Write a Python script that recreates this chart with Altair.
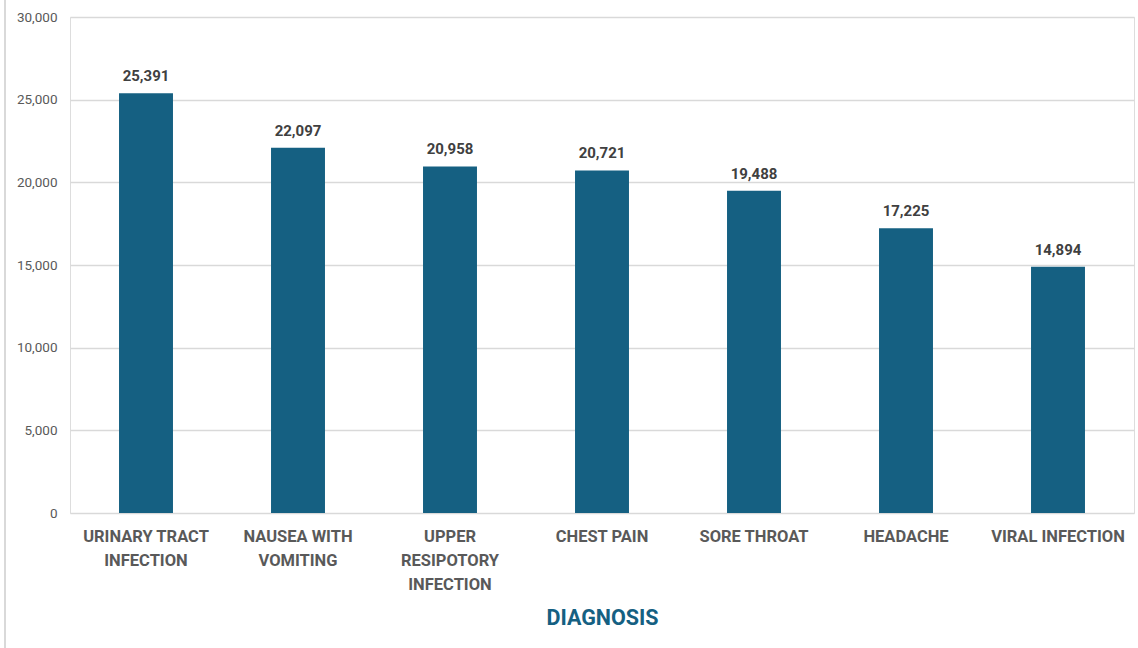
import altair as alt
import pandas as pd

categories = ["URINARY TRACT|INFECTION", "NAUSEA WITH|VOMITING", "UPPER|RESIPOTORY|INFECTION",
              "CHEST PAIN", "SORE THROAT", "HEADACHE", "VIRAL INFECTION"]
counts = [25391, 22097, 20958, 20721, 19488, 17225, 14894]

df = pd.DataFrame({"diagnosis": categories, "count": counts})

bar_color = "#156082"
x = alt.X("diagnosis:N", sort=categories,
          scale=alt.Scale(paddingInner=0.645, paddingOuter=0.3225),
          axis=alt.Axis(title="DIAGNOSIS", labelAngle=0, labelExpr="split(datum.label, '|')",
                        labelFont="Roboto", labelFontWeight="bold", labelFontSize=16.5,
                        labelColor="#595959", labelLineHeight=24, labelPadding=15,
                        labelBaseline="top",
                        domain=False, ticks=False,
                        titleFont="Roboto", titleFontSize=21.5, titleFontWeight="bold",
                        titleColor=bar_color, titlePadding=15))
y = alt.Y("count:Q", scale=alt.Scale(domain=[0, 30000]),
          axis=alt.Axis(title=None, values=[0, 5000, 10000, 15000, 20000, 25000, 30000],
                        format=",.0f", labelFont="Roboto", labelFontSize=13.5, labelColor="#595959",
                        labelPadding=13, domain=False, ticks=False,
                        gridColor="#d9d9d9", gridWidth=1.3))

bars = alt.Chart(df).mark_bar(color=bar_color).encode(x=x, y=y)
labels = alt.Chart(df).mark_text(baseline="bottom", dy=-9, font="Roboto", fontWeight="bold",
                                 fontSize=15, color="#404040").encode(
    x=alt.X("diagnosis:N", sort=categories), y="count:Q", text=alt.Text("count:Q", format=",.0f"))
border = alt.Chart(df).mark_rule(color="#d9d9d9", strokeWidth=2).encode(
    x=alt.value(-65), y=alt.value(-17), y2=alt.value(631))

chart = alt.layer(border, bars, labels).properties(
    width=1064, height=496,
    padding={"left": 70, "top": 17, "right": 4, "bottom": 135},
    autosize=alt.AutoSizeParams(type="none"),
).configure_view(stroke=None).configure(background="white")

chart.save("out.html", embed_options={"renderer": "svg", "actions": False})
